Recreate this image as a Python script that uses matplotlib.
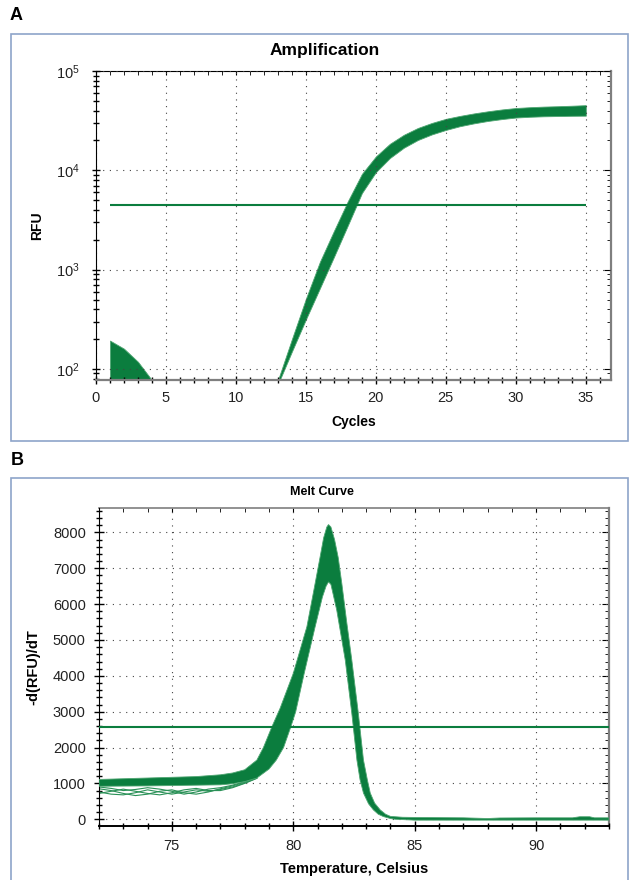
import numpy as np
import matplotlib
matplotlib.use('Agg')
import matplotlib.pyplot as plt
from matplotlib.patches import Rectangle
from matplotlib.ticker import MultipleLocator, LogLocator, NullFormatter

plt.rcParams['font.family'] = ['Liberation Sans', 'DejaVu Sans']
plt.rcParams['mathtext.default'] = 'regular'

GREEN = '#0b7d3e'
EDGE = '#4fa672'
GRID = '#444444'

########### amplification data ###########

amp_cycles = [13, 14, 15, 16, 17, 18, 19, 20, 21, 22, 23, 24,
              25, 26, 27, 28, 29, 30, 31, 32, 33, 34, 35]
amp_upper = [77, 200, 510, 1200, 2450, 4900, 9200, 13800, 18500, 22800, 26700, 30000,
             33000, 35300, 37400, 39300, 41000, 42400, 43200, 43800, 44200, 44700, 45300]
amp_lower = [70, 150, 316, 650, 1340, 2800, 5900, 9600, 13300, 16900, 20200, 23000,
             25500, 27800, 29700, 31400, 32800, 34000, 34600, 35000, 35200, 35400, 35500]

noise_cycles = [1, 2, 3, 4]
noise_upper = [193, 160, 118, 77]
noise_lower = [60, 60, 60, 60]

amp_threshold = 4450

########### melt data ###########

melt_t_upper = [72.0, 73.0, 74.0, 75.0, 76.0, 77.0, 77.5, 78.0, 78.5, 78.77, 79.12, 79.46,
                80.0, 80.56, 80.85, 81.1, 81.25, 81.38, 81.45, 81.55, 81.7, 81.85, 82.0,
                82.2, 82.41, 82.68, 82.89, 83.05, 83.17, 83.35, 83.58, 83.8, 84.0, 84.5,
                85.0, 86.0, 87.0, 88.0, 88.5, 90.0, 91.5, 91.8, 92.2, 92.4, 93.0]
melt_upper = [1110, 1130, 1150, 1170, 1190, 1240, 1290, 1380, 1650, 2000, 2580, 3100,
              4070, 5370, 6400, 7300, 7850, 8150, 8220, 8150, 7800, 7300, 6570,
              5500, 4440, 2950, 1650, 1100, 730, 450, 260, 140, 80, 55,
              50, 45, 40, 20, 35, 40, 40, 70, 70, 40, 40]

melt_t_lower = [72.0, 74.0, 76.0, 77.0, 77.5, 78.0, 78.5, 79.0, 79.3, 79.6, 79.9, 80.1,
                80.45, 80.9, 81.2, 81.35, 81.45, 81.55, 81.79, 82.14, 82.41, 82.62, 82.75,
                82.89, 83.1, 83.3, 83.5, 83.71, 84.0, 84.2, 85.0, 93.0]
melt_lower = [920, 930, 950, 960, 990, 1050, 1150, 1400, 1650, 2000, 2580, 3000,
              4070, 5370, 6200, 6500, 6620, 6550, 5830, 4440, 2950, 1650, 1100,
              730, 430, 260, 140, 75, 20, 0, -25, -25]

# a few noisy wells that drop below the main band at low temperature
base_t = [72, 72.5, 73, 73.5, 74, 74.5, 75, 75.5, 76, 76.5, 77, 77.5, 78, 78.5]
well_a = [760, 700, 680, 740, 820, 760, 700, 760, 820, 780, 830, 900, 1010, 1150]
well_b = [850, 800, 720, 660, 700, 780, 820, 740, 700, 760, 850, 930, 1030, 1160]
well_c = [720, 780, 840, 780, 720, 680, 740, 820, 860, 800, 800, 880, 1000, 1140]
well_d = [900, 860, 800, 830, 880, 840, 780, 700, 760, 840, 880, 950, 1050, 1170]

melt_threshold = 2580

fig = plt.figure(figsize=(6.29, 8.80), dpi=100)

# panel frames
fig.add_artist(Rectangle((11/629, 1 - 440.7/880), 617/629, 407/880, transform=fig.transFigure,
                         fill=False, edgecolor='#8ea4c9', lw=1.2))
fig.add_artist(Rectangle((11/629, -0.01), 617/629, 1 - 478.3/880 + 0.01, transform=fig.transFigure,
                         fill=False, edgecolor='#8ea4c9', lw=1.2))
fig.text(10/629, 1 - 16/880, 'A', fontsize=13, fontweight='bold', va='center', ha='left')
fig.text(11/629, 1 - 460/880, 'B', fontsize=13, fontweight='bold', va='center', ha='left')

########## amplification ###########

axA = fig.add_axes([96/629, 1 - 380/880, 515/629, 309/880])
axA.fill_between(noise_cycles, noise_lower, noise_upper, color=GREEN, lw=0.6, edgecolor=EDGE)
axA.fill_between(amp_cycles, amp_lower, amp_upper, color=GREEN, lw=0.6, edgecolor=EDGE)
axA.hlines(amp_threshold, 1, 35, color=GREEN, lw=1.5)
axA.set_yscale('log')
axA.set_xlim(0, 36.8)
axA.set_ylim(77.4, 1e5)
axA.xaxis.set_major_locator(MultipleLocator(5))
axA.xaxis.set_minor_locator(MultipleLocator(1))
axA.yaxis.set_major_locator(LogLocator(base=10, numticks=10))
axA.yaxis.set_minor_locator(LogLocator(base=10, subs=np.arange(2, 10), numticks=10))
axA.yaxis.set_minor_formatter(NullFormatter())
axA.grid(True, which='major', linestyle=(0, (1, 5)), color=GRID, lw=0.8)
axA.tick_params(axis='both', which='major', direction='inout', length=6, width=1,
                labelsize=10.5, labelcolor='#222222')
axA.tick_params(axis='both', which='minor', direction='inout', length=4.5, width=1)
axA.tick_params(axis='x', which='major', pad=5)
axA.tick_params(axis='y', which='major', pad=9)
axA.spines['left'].set_color('black')
axA.spines['bottom'].set_color('#7f7f7f')
axA.spines['bottom'].set_linewidth(1.6)
axA.spines['top'].set_visible(False)
axA.spines['right'].set_visible(False)

topA = axA.secondary_xaxis('top')
topA.xaxis.set_major_locator(MultipleLocator(5))
topA.xaxis.set_minor_locator(MultipleLocator(1))
topA.tick_params(which='both', direction='in', length=3, labeltop=False)
topA.spines['top'].set_color('black')
rightA = axA.secondary_yaxis('right')
rightA.yaxis.set_major_locator(LogLocator(base=10, numticks=10))
rightA.yaxis.set_minor_locator(LogLocator(base=10, subs=np.arange(2, 10), numticks=10))
rightA.tick_params(which='major', direction='in', length=5, labelright=False)
rightA.tick_params(which='minor', direction='in', length=3, labelright=False)
rightA.spines['right'].set_color('#7f7f7f')
rightA.spines['right'].set_linewidth(1.6)

axA.set_xlabel('Cycles', fontsize=10, fontweight='bold')
axA.set_ylabel('RFU', fontsize=10, fontweight='bold')
axA.xaxis.set_label_coords(0.5, -0.136)
axA.xaxis.label.set_va('center')
axA.yaxis.set_label_coords(-0.115, 0.5)
axA.yaxis.label.set_va('center')
fig.text(325/629, 1 - 50/880, 'Amplification', fontsize=12.5, fontweight='bold',
         ha='center', va='center')

########## melt curve ###########

axB = fig.add_axes([99/629, 1 - 825.7/880, 510/629, 318/880])
for w in [well_a, well_b, well_c, well_d]:
    axB.plot(base_t, w, color='#2a9157', lw=0.8, zorder=2)
axB.fill(np.concatenate([melt_t_upper, melt_t_lower[::-1]]),
         np.concatenate([melt_upper, melt_lower[::-1]]),
         facecolor=GREEN, edgecolor=EDGE, lw=0.6, zorder=3)
axB.axhline(melt_threshold, color=GREEN, lw=1.5, zorder=4)
axB.set_xlim(72, 93)
axB.set_ylim(-180, 8690)
axB.xaxis.set_major_locator(MultipleLocator(5))
axB.xaxis.set_minor_locator(MultipleLocator(1))
axB.yaxis.set_major_locator(MultipleLocator(1000))
axB.yaxis.set_minor_locator(MultipleLocator(200))
axB.grid(True, which='major', linestyle=(0, (1, 5)), color=GRID, lw=0.8)
axB.tick_params(axis='both', which='major', direction='inout', length=7, width=1,
                labelsize=10.5, labelcolor='#222222')
axB.tick_params(axis='both', which='minor', direction='inout', length=4.5, width=1)
axB.tick_params(axis='x', which='major', pad=6)
axB.tick_params(axis='y', which='major', pad=6)
axB.spines['left'].set_color('black')
axB.spines['bottom'].set_color('black')
axB.spines['bottom'].set_linewidth(1.4)
axB.spines['top'].set_visible(False)
axB.spines['right'].set_visible(False)

topB = axB.secondary_xaxis('top')
topB.xaxis.set_major_locator(MultipleLocator(5))
topB.xaxis.set_minor_locator(MultipleLocator(1))
topB.tick_params(which='both', direction='in', length=3, labeltop=False)
topB.spines['top'].set_color('#7f7f7f')
topB.spines['top'].set_linewidth(1.2)
rightB = axB.secondary_yaxis('right')
rightB.yaxis.set_major_locator(MultipleLocator(1000))
rightB.yaxis.set_minor_locator(MultipleLocator(200))
rightB.tick_params(which='major', direction='in', length=5, labelright=False)
rightB.tick_params(which='minor', direction='in', length=3, labelright=False)
rightB.spines['right'].set_color('#7f7f7f')
rightB.spines['right'].set_linewidth(1.6)

axB.set_xlabel('Temperature, Celsius', fontsize=10.5, fontweight='bold')
axB.set_ylabel('-d(RFU)/dT', fontsize=10.5, fontweight='bold')
axB.xaxis.set_label_coords(0.5, -0.136)
axB.xaxis.label.set_va('center')
axB.yaxis.set_label_coords(-0.129, 0.5)
axB.yaxis.label.set_va('center')
fig.text(322/629, 1 - 492/880, 'Melt Curve', fontsize=9, fontweight='bold',
         ha='center', va='center')

plt.savefig('out.png', dpi=100)
